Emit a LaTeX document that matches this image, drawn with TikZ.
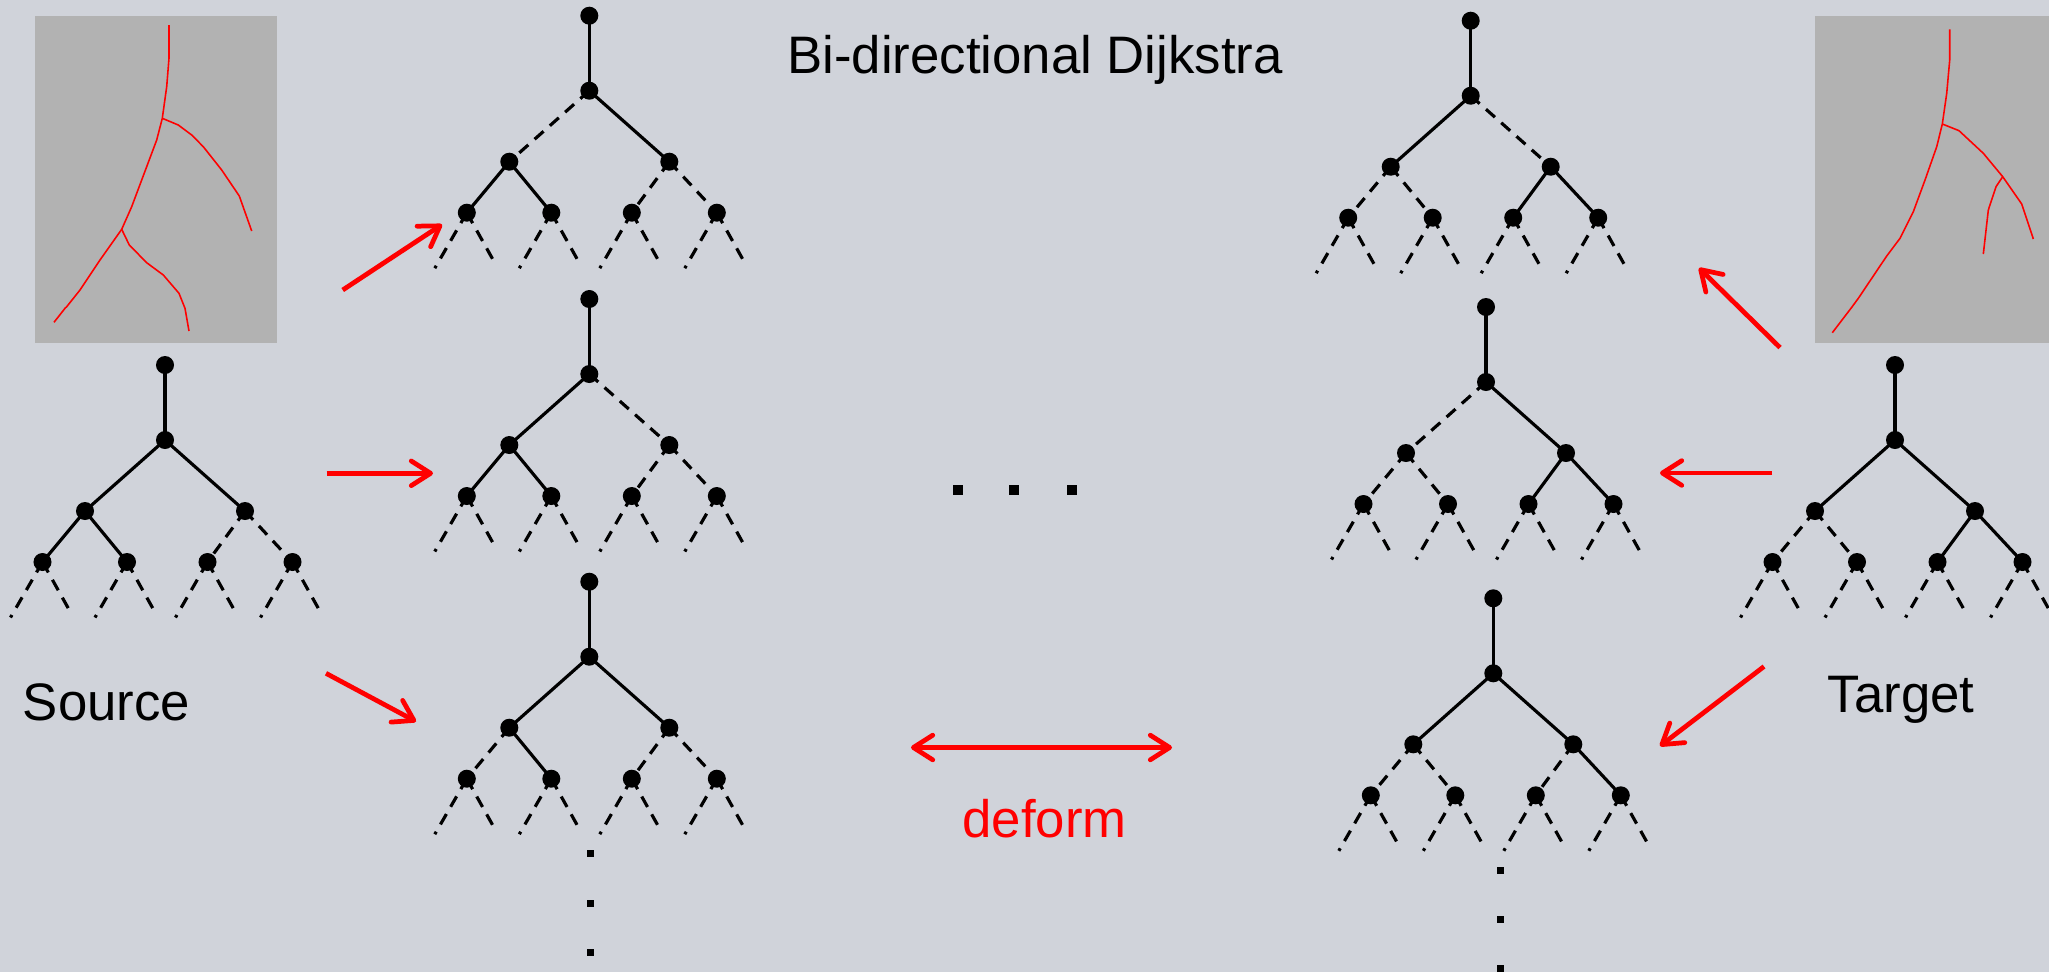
\documentclass[tikz,border=0pt]{standalone}
\usepackage{fontspec}
\setmainfont{Liberation Sans}
\usetikzlibrary{arrows.meta}

\definecolor{bgcol}{RGB}{208,211,218}
\definecolor{photo}{RGB}{178,178,178}

\pgfdeclarelayer{back}
\pgfdeclarelayer{edges}
\pgfsetlayers{back,edges,main}

\tikzset{
  dot/.style={circle, fill=black, inner sep=0pt, minimum size=0.18cm},
  sqdot/.style={rectangle, fill=black, inner sep=0pt, minimum size=0.10cm},
  vdot/.style={rectangle, fill=black, inner sep=0pt, minimum size=0.07cm},
  edge/.style={black, line width=0.9pt},
  tsolid/.style={solid},
  tdash/.style={dash pattern=on 3.4pt off 2.4pt},
  redarrow/.style={red, line width=1.35pt, -{Straight Barb[length=5.5pt, width=7pt, round]}},
  redboth/.style={red, line width=1.35pt, {Straight Barb[length=5.5pt, width=7pt, round]}-{Straight Barb[length=5.5pt, width=7pt, round]}},
  vessel/.style={red, line width=0.45pt, line join=round},
  lbl/.style={inner sep=0pt, font=\fontsize{15}{18}\selectfont},
}

% Binary search tree: #1 name, #2 position of the first branching node,
% #3..#8 line styles of the six inner edges
\newcommand{\bintree}[8]{%
  \begin{scope}[shift={#2}]
    \node[dot] (#1-top) at (0,-75) {};
    \node[dot] (#1-n) at (0,0) {};
    \node[dot] (#1-a) at (-80,71) {};
    \node[dot] (#1-b) at (80,71) {};
    \foreach \i/\cx in {1/-122.5,2/-38,3/42.5,4/127.5}{
      \node[dot] (#1-c\i) at (\cx,122) {};
      \coordinate (#1-c\i-l) at ([shift={(-32,55.5)}]\cx,122);
      \coordinate (#1-c\i-r) at ([shift={(29,52)}]\cx,122);
    }
  \end{scope}
  \begin{pgfonlayer}{edges}
    \draw[edge] (#1-top.center) -- (#1-n.center);
    \draw[edge,#3] (#1-n.center) -- (#1-a.center);
    \draw[edge,#4] (#1-n.center) -- (#1-b.center);
    \draw[edge,#5] (#1-a.center) -- (#1-c1.center);
    \draw[edge,#6] (#1-a.center) -- (#1-c2.center);
    \draw[edge,#7] (#1-b.center) -- (#1-c3.center);
    \draw[edge,#8] (#1-b.center) -- (#1-c4.center);
    \foreach \i in {1,...,4}{
      \draw[edge,tdash] (#1-c\i.center) -- (#1-c\i-l);
      \draw[edge,tdash] (#1-c\i.center) -- (#1-c\i-r);
    }
  \end{pgfonlayer}
}

\begin{document}
\begin{tikzpicture}[x=0.01cm, y=-0.01cm]
  \begin{pgfonlayer}{back}
    \fill[bgcol] (0,0) rectangle (2049,972);
  \end{pgfonlayer}
  \useasboundingbox (0,0) rectangle (2049,972);

  % vessel pictures
  \fill[photo] (35,16) rectangle (276.7,342.7);
  \draw[vessel] (169,25) -- (169,58.3) -- (166.7,86.7) -- (162.3,118.3) -- (156.7,140)
    -- (146.7,166.7) -- (136.7,193.3) -- (131.7,206.7) -- (121.7,229.3) -- (100,260)
    -- (80,290) -- (66.7,306.7) -- (65,308.3) -- (54,322.3);
  \draw[vessel] (162.3,118.3) -- (178.3,125) -- (191.7,135) -- (203.3,146.7)
    -- (221.7,170) -- (239.3,196) -- (251.7,231);
  \draw[vessel] (121.7,229.3) -- (129.3,245) -- (146.7,262.7) -- (163.3,275)
    -- (179,293.3) -- (185,308.3) -- (189,331);

  \fill[photo] (1815,16) rectangle (2049,343.3);
  \draw[vessel] (1949.7,29.3) -- (1949.7,60) -- (1946.7,93.3) -- (1942.3,124)
    -- (1936.7,146.7) -- (1925,180) -- (1913.3,211.7) -- (1900,238.3) -- (1886.7,256)
    -- (1858.3,298.3) -- (1851.7,307.3) -- (1832.3,332.7);
  \draw[vessel] (1942.3,124) -- (1959,130.7) -- (1983.3,153.3) -- (2002.7,176.7)
    -- (2021.7,204) -- (2033.3,239);
  \draw[vessel] (2002.7,176.7) -- (1996,186.7) -- (1988.3,210) -- (1983.3,254);

  % trees
  \bintree{src}{(165,440)}{tsolid}{tsolid}{tsolid}{tsolid}{tdash}{tdash}
  \bintree{fa}{(589.3,90.7)}{tdash}{tsolid}{tsolid}{tsolid}{tdash}{tdash}
  \bintree{fb}{(589.3,374)}{tsolid}{tdash}{tsolid}{tsolid}{tdash}{tdash}
  \bintree{fc}{(589.3,656.7)}{tsolid}{tsolid}{tdash}{tsolid}{tdash}{tdash}
  \bintree{ba}{(1470.7,95.7)}{tsolid}{tdash}{tdash}{tdash}{tsolid}{tsolid}
  \bintree{bb}{(1486,382)}{tdash}{tsolid}{tdash}{tdash}{tsolid}{tsolid}
  \bintree{bc}{(1493.3,673.3)}{tsolid}{tsolid}{tdash}{tdash}{tdash}{tsolid}
  \bintree{tgt}{(1895,440)}{tsolid}{tsolid}{tdash}{tdash}{tsolid}{tsolid}

  % continuation marks
  \node[vdot] (fv1) at (590,853) {};
  \node[vdot] (fv2) at (590,903) {};
  \node[vdot] (fv3) at (590,952) {};
  \node[vdot] (bv1) at (1500.3,870.7) {};
  \node[vdot] (bv2) at (1500.3,919.7) {};
  \node[vdot] (bv3) at (1500.3,968.7) {};
  \node[sqdot] (h1) at (958,490) {};
  \node[sqdot] (h2) at (1014,490) {};
  \node[sqdot] (h3) at (1071.6,490) {};

  % labels
  \node[lbl, anchor=base] (title) at (1035,73) {Bi-directional Dijkstra};
  \node[lbl, anchor=base] (source) at (106.5,720) {Source};
  \node[lbl, anchor=base] (target) at (1901,712) {Target};
  \node[lbl, anchor=base, text=red] (deform) at (1044.6,837) {deform};

  % expansion arrows
  \coordinate (s1) at (342.7,290);   \coordinate (e1) at (442,224.5);
  \coordinate (s2) at (326.7,473.3); \coordinate (e2) at (433,473.3);
  \coordinate (s3) at (326,673.3);   \coordinate (e3) at (416,721.5);
  \coordinate (t1) at (1780,347.6);  \coordinate (f1) at (1699,268);
  \coordinate (t2) at (1772,473);    \coordinate (f2) at (1660,473);
  \coordinate (t3) at (1764,666.5);  \coordinate (f3) at (1660,746);
  \coordinate (dl) at (911,747.5);   \coordinate (dr) at (1172,747.5);
  \draw[redarrow] (s1) -- (e1);
  \draw[redarrow] (s2) -- (e2);
  \draw[redarrow] (s3) -- (e3);
  \draw[redarrow] (t1) -- (f1);
  \draw[redarrow] (t2) -- (f2);
  \draw[redarrow] (t3) -- (f3);
  \draw[redboth] (dl) -- (dr);
\end{tikzpicture}
\end{document}
